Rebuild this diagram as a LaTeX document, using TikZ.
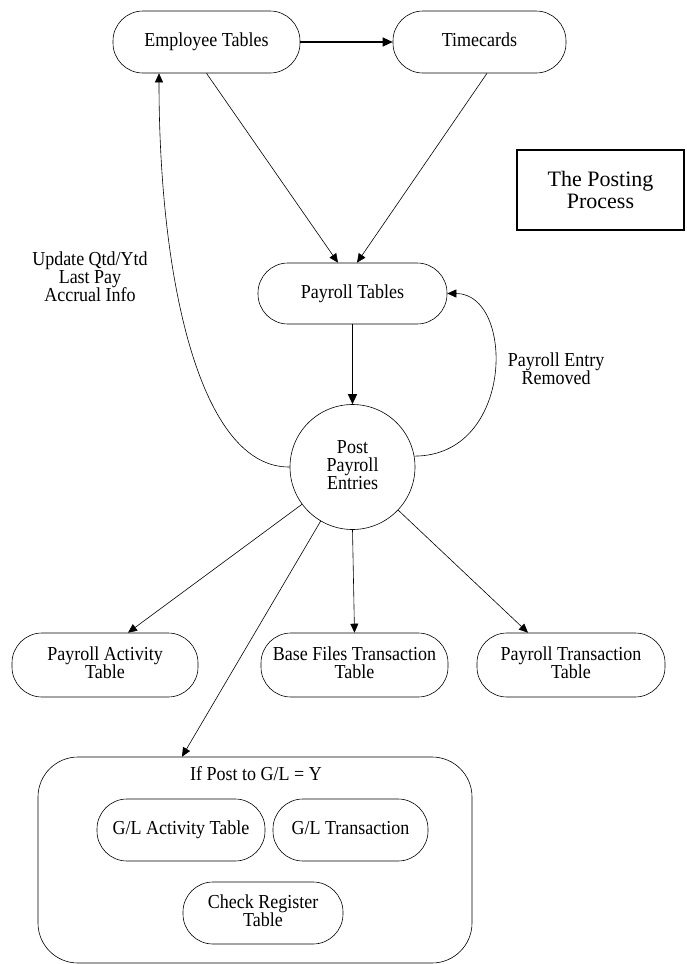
\documentclass[tikz,border=0pt]{standalone}
\usepackage{fontspec}
\usepackage{graphicx}
\setmainfont{Liberation Serif}
\usetikzlibrary{arrows.meta}
\newcommand\tx[1]{\scalebox{1}[1.1]{\vbox{\let\\\cr\baselineskip=16.3pt\lineskiplimit=-\maxdimen\lineskip=0pt\halign{\hfil\vrule height 12pt depth 4pt width 0pt##\hfil\cr#1\crcr}}}}
\begin{document}
\begin{tikzpicture}[x=1pt,y=-1pt,
  every node/.style={font=\fontsize{18}{16.3}\selectfont, align=center, inner sep=0pt},
  stadium/.style={draw, line width=0.6pt, rounded corners=30pt, minimum height=62pt},
  conn/.style={line width=0.6pt, -{Triangle[length=9pt,width=8pt]}},
  bold conn/.style={line width=1.2pt, -{Triangle[length=10pt,width=9pt]}},
  lbl/.style={font=\fontsize{18}{16.3}\selectfont}
]
\useasboundingbox (0,0) rectangle (686,964);

% top row
\node[stadium, minimum width=187pt] (emp) at (206.5,42) {\tx{Employee Tables}};
\node[stadium, minimum width=173pt] (time) at (479.5,42) {\tx{Timecards}};

% title box
\node[draw, line width=1.2pt, minimum width=167pt, minimum height=80pt,
      font=\fontsize{22}{22}\selectfont] (title) at (600.5,190) {The Posting\\Process};

% middle
\node[stadium, minimum width=189pt, minimum height=61pt] (payt) at (352.5,293.5) {\tx{Payroll Tables}};
\node[circle, draw, line width=0.6pt, minimum size=125pt] (post) at (352.5,467) {\tx{Post\\Payroll\\Entries}};

\node[lbl] (updlbl) at (90,279) {\tx{Update Qtd/Ytd\\Last Pay\\Accrual Info}};
\node[lbl] (remlbl) at (556,371) {\tx{Payroll Entry\\Removed}};

% output tables
\node[stadium, minimum width=186pt, minimum height=64pt] (pact) at (105,665) {\tx{Payroll Activity\\Table}};
\node[stadium, minimum width=187pt, minimum height=64pt] (base) at (354.5,665) {\tx{Base Files Transaction\\Table}};
\node[stadium, minimum width=188pt, minimum height=64pt] (ptrans) at (571,665) {\tx{Payroll Transaction\\Table}};

% G/L group
\node[draw, line width=0.6pt, rounded corners=40pt, minimum width=434pt, minimum height=206pt] (gl) at (255,860) {};
\node (gllbl) at (256,776) {\tx{If Post to G/L = Y}};
\node[stadium, minimum width=168pt] (glact) at (181,830) {\tx{G/L Activity Table}};
\node[stadium, minimum width=155pt] (gltr) at (350.5,830) {\tx{G/L Transaction}};
\node[stadium, minimum width=160pt] (chk) at (263,913) {\tx{Check Register\\Table}};

% connectors
\draw[bold conn] (emp.east) -- (time.west);
\draw[conn] (emp.south) -- ([xshift=-14.5pt]payt.north);
\draw[conn] ([xshift=7.5pt]time.south) -- ([xshift=4.5pt]payt.north);
\draw[bold conn] (payt.south) -- (post.north);
\draw[conn] (post.west) .. controls (200,468) and (159,280) .. ([xshift=-47.5pt]emp.south);
\draw[conn] (post.10) .. controls (515,456) and (515,293.5) .. (payt.east);
\draw[conn] (post) -- ([xshift=23pt]pact.north);
\draw[conn] (post.south) -- (base.north);
\draw[conn] (post) -- ([xshift=-43pt]ptrans.north);
\draw[conn] (post) -- ([xshift=-73pt]gl.north);
\end{tikzpicture}
\end{document}
